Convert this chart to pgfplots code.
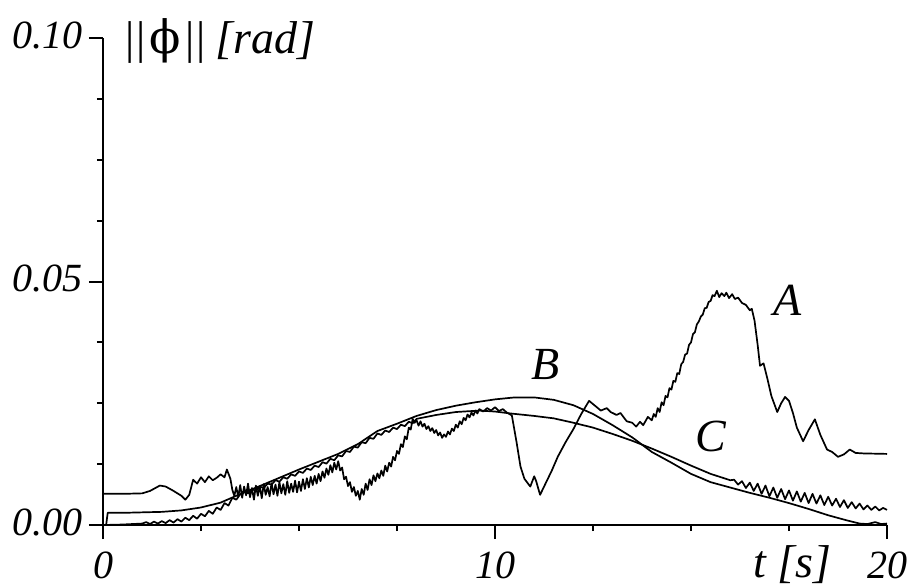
\documentclass[border=0pt]{standalone}
\usepackage{fontspec}
\setmainfont{Liberation Serif}
\newfontfamily\dvs{DejaVu Serif}
\usepackage{pgfplots}
\pgfplotsset{compat=1.18}
\begin{document}
\begin{tikzpicture}
\begin{axis}[
  scale only axis, width=392pt, height=243.5pt,
  xmin=0, xmax=20, ymin=0, ymax=0.1,
  axis x line=bottom, axis y line=left,
  axis line style={-, line width=1pt},
  xtick={0,10,20}, xticklabels={0,10,20},
  ytick={0,0.05,0.1}, yticklabels={0.00,0.05,0.10},
  minor x tick num=3, minor y tick num=3,
  xtick align=outside, ytick align=outside,
  major tick length=7pt, minor tick length=3pt,
  tick style={line width=1pt, black},
  ticklabel style={font=\fontsize{20}{22}\selectfont\itshape, inner sep=0pt},
  xticklabel style={anchor=base, yshift=-19.5pt},
  yticklabel style={anchor=east, xshift=-3pt, yshift=1.5pt},
  clip=false,
  cycle list={{black, mark=none}},
  every axis plot/.append style={black, mark=none, line width=0.85pt, line join=round},
]
\coordinate (O) at (rel axis cs:0,0);
\coordinate (T) at (rel axis cs:0,1);
% Curve A
\addplot coordinates {
(0,0.0064) (0.5,0.0064) (1.0,0.0065) (1.2,0.0070) (1.45,0.0081) (1.6,0.0079) (1.8,0.0070) (2.0,0.0060) (2.1,0.0052) (2.2,0.0062)
(2.3,0.0093) (2.4,0.0085) (2.5,0.0098) (2.6,0.0088) (2.7,0.0100) (2.8,0.0092) (2.9,0.0097) (3.0,0.0104) (3.1,0.0098) (3.16,0.0114)
(3.25,0.0095) (3.3,0.0072)
(3.35,0.0060) (3.40,0.0078) (3.45,0.0058) (3.50,0.0082) (3.55,0.0056) (3.60,0.0079) (3.65,0.0061) (3.70,0.0085) (3.75,0.0057) (3.80,0.0076)
(3.85,0.0052) (3.90,0.0081) (3.95,0.0060) (4.00,0.0080) (4.05,0.0055) (4.10,0.0084) (4.15,0.0062) (4.20,0.0078) (4.25,0.0059) (4.30,0.0086)
(4.35,0.0063) (4.40,0.0083) (4.45,0.0060) (4.50,0.0088) (4.55,0.0065) (4.60,0.0084) (4.65,0.0062) (4.70,0.0090) (4.75,0.0066) (4.80,0.0085)
(4.85,0.0068) (4.90,0.0091) (4.95,0.0067) (5.00,0.0089) (5.05,0.0070) (5.10,0.0094) (5.15,0.0074) (5.20,0.0096) (5.25,0.0077) (5.30,0.0099)
(5.35,0.0082) (5.40,0.0101) (5.45,0.0085) (5.50,0.0105) (5.55,0.0090) (5.60,0.0110) (5.65,0.0097) (5.70,0.0116) (5.75,0.0103) (5.80,0.0123)
(5.85,0.0108) (5.90,0.0128) (5.95,0.0114) (6.00,0.0131) (6.05,0.0112) (6.10,0.0118) (6.15,0.0094) (6.20,0.0099) (6.25,0.0080) (6.30,0.0088)
(6.35,0.0068) (6.40,0.0078) (6.45,0.0060) (6.50,0.0070) (6.55,0.0052) (6.60,0.0074) (6.65,0.0062) (6.70,0.0085) (6.75,0.0072) (6.80,0.0094)
(6.85,0.0082) (6.90,0.0102) (6.95,0.0090) (7.00,0.0106) (7.05,0.0096) (7.10,0.0112) (7.15,0.0101) (7.20,0.0122) (7.25,0.0110) (7.30,0.0128)
(7.35,0.0120) (7.40,0.0140) (7.45,0.0133) (7.50,0.0152) (7.55,0.0146) (7.60,0.0166) (7.65,0.0160) (7.70,0.0182) (7.75,0.0176) (7.80,0.0200)
(7.85,0.0196) (7.90,0.0218) (7.95,0.0210) (8.00,0.0215) (8.05,0.0204) (8.10,0.0213) (8.15,0.0202) (8.20,0.0208) (8.25,0.0197) (8.30,0.0203)
(8.35,0.0193) (8.40,0.0199) (8.45,0.0189) (8.50,0.0195) (8.55,0.0184) (8.60,0.0190) (8.65,0.0179) (8.70,0.0186) (8.75,0.0181) (8.80,0.0192)
(8.85,0.0186) (8.90,0.0198) (8.95,0.0193) (9.00,0.0206) (9.05,0.0200) (9.10,0.0213) (9.15,0.0207) (9.20,0.0220) (9.25,0.0215) (9.30,0.0227)
(9.35,0.0221) (9.40,0.0231) (9.45,0.0225) (9.50,0.0235) (9.55,0.0229) (9.60,0.0238) (9.70,0.0233) (9.80,0.0240) (9.90,0.0235) (10.0,0.0242)
(10.1,0.0234) (10.2,0.0238) (10.3,0.0231) (10.43,0.0225) (10.55,0.0170) (10.65,0.0120) (10.75,0.0095)
(10.9,0.0079) (11.0,0.0100) (11.05,0.0090) (11.15,0.0062) (11.3,0.0087) (11.45,0.0112) (11.6,0.0140) (11.8,0.0170) (12.0,0.0197) (12.2,0.0228)
(12.4,0.0255) (12.55,0.0245) (12.7,0.0235) (12.85,0.0240) (12.95,0.0232) (13.1,0.0226) (13.2,0.0230) (13.36,0.0213) (13.5,0.0210) (13.6,0.0202)
(13.7,0.0212) (13.78,0.0205) (13.9,0.0222)
(14.0,0.0215) (14.05,0.0228) (14.1,0.0222) (14.15,0.0240) (14.2,0.0232) (14.25,0.0252) (14.3,0.0246) (14.35,0.0265) (14.4,0.0262) (14.45,0.0281)
(14.5,0.0278) (14.55,0.0296) (14.6,0.0294) (14.65,0.0312) (14.7,0.0310) (14.75,0.0330) (14.8,0.0335) (14.85,0.0350) (14.9,0.0352) (14.95,0.0370)
(15.0,0.0375) (15.05,0.0392) (15.1,0.0396) (15.15,0.0412) (15.2,0.0418) (15.25,0.0428) (15.3,0.0432) (15.35,0.0445) (15.4,0.0446) (15.45,0.0458)
(15.5,0.0460) (15.55,0.0472) (15.6,0.0470) (15.66,0.0481) (15.72,0.0468) (15.78,0.0476) (15.85,0.0470) (15.9,0.0477) (15.97,0.0466) (16.05,0.0474)
(16.12,0.0464) (16.2,0.0467) (16.3,0.0456) (16.4,0.0452) (16.5,0.0441) (16.55,0.0444) (16.62,0.0420) (16.7,0.0370) (16.76,0.0327)
(16.85,0.0332) (16.95,0.0300) (17.05,0.0265) (17.2,0.0232) (17.3,0.0250) (17.4,0.0263) (17.5,0.0255) (17.6,0.0230) (17.7,0.0200) (17.86,0.0172)
(18.0,0.0195) (18.16,0.0217) (18.3,0.0185) (18.47,0.0155) (18.6,0.0150) (18.75,0.0140) (18.9,0.0145) (19.05,0.0155) (19.2,0.0148) (19.4,0.0147)
(20,0.0146)
};
% Curve S (smooth)
\addplot coordinates {
(0,0) (0.08,0.0000) (0.12,0.0025) (0.5,0.0025) (1.0,0.0026) (1.5,0.0027) (2.0,0.0030) (2.5,0.0036) (3.0,0.0046) (3.4,0.0060)
(4.0,0.0080) (4.5,0.0097) (5.0,0.0114) (5.5,0.0130) (6.0,0.0146) (6.5,0.0166) (7.0,0.0193) (7.5,0.0208) (8.0,0.0224) (8.5,0.0236)
(9.0,0.0245) (9.5,0.0252) (10.0,0.0258) (10.5,0.0262) (11.0,0.0262) (11.5,0.0257) (12.0,0.0246) (12.5,0.0228) (13.0,0.0205) (13.5,0.0180)
(14.0,0.0150) (14.5,0.0128) (15.0,0.0105) (15.5,0.0088) (16.0,0.0077) (16.5,0.0066) (17.0,0.0056) (17.5,0.0045) (18.0,0.0033) (18.5,0.0020)
(19.0,0.0009) (19.3,0.0003) (19.5,0.0002) (19.7,0.0006) (19.85,0.0002) (20,0.0003)
};
% Curve Z (zigzag)
\addplot coordinates {
(0,0.0000) (0.5,0.0001) (1.0,0.0003) (1.1,0.0006) (1.2,0.0002) (1.3,0.0007) (1.4,0.0003) (1.5,0.0008) (1.6,0.0004) (1.7,0.0010)
(1.8,0.0005) (1.9,0.0012) (2.0,0.0007) (2.1,0.0015) (2.2,0.0010) (2.3,0.0019) (2.4,0.0013) (2.5,0.0023) (2.6,0.0018) (2.7,0.0029)
(2.8,0.0023) (2.9,0.0036) (3.0,0.0031) (3.1,0.0045) (3.2,0.0040) (3.3,0.0056) (3.4,0.0052) (3.5,0.0063)
(3.6,0.0069) (3.7,0.0065) (3.8,0.0074) (3.9,0.0070) (4.0,0.0079) (4.1,0.0076) (4.2,0.0085) (4.3,0.0083) (4.4,0.0092) (4.5,0.0089)
(4.6,0.0098) (4.7,0.0095) (4.8,0.0104) (4.9,0.0101) (5.0,0.0110) (5.1,0.0107) (5.2,0.0116) (5.3,0.0113) (5.4,0.0122) (5.5,0.0119)
(5.6,0.0129) (5.7,0.0126) (5.8,0.0136) (5.9,0.0133) (6.0,0.0143) (6.1,0.0141) (6.2,0.0152) (6.3,0.0150) (6.4,0.0161) (6.5,0.0159)
(6.6,0.0170) (6.7,0.0168) (6.8,0.0179) (6.9,0.0177) (7.0,0.0188) (7.1,0.0185) (7.2,0.0194) (7.3,0.0191) (7.4,0.0200) (7.5,0.0197)
(7.6,0.0206) (7.7,0.0203) (7.8,0.0212) (7.9,0.0209) (8.0,0.0218)
(8.5,0.0226) (9.0,0.0232) (9.6,0.0235) (10.0,0.0233) (10.4,0.0229) (11.0,0.0224) (11.5,0.0219) (12.0,0.0210) (12.5,0.0200) (13.0,0.0187)
(13.5,0.0173) (14.0,0.0157) (14.5,0.0140) (15.0,0.0122) (15.5,0.0105) (16.0,0.0092)
(16.1,0.0093) (16.2,0.0083) (16.3,0.0090) (16.4,0.0076) (16.5,0.0087) (16.6,0.0070) (16.7,0.0085) (16.8,0.0064) (16.9,0.0081) (17.0,0.0059)
(17.1,0.0077) (17.2,0.0056) (17.3,0.0074) (17.4,0.0053) (17.5,0.0071) (17.6,0.0050) (17.7,0.0069) (17.8,0.0048) (17.9,0.0066) (18.0,0.0045)
(18.1,0.0064) (18.2,0.0044) (18.3,0.0061) (18.4,0.0041) (18.5,0.0058) (18.6,0.0040) (18.7,0.0054) (18.8,0.0037) (18.9,0.0051) (19.0,0.0035)
(19.1,0.0047) (19.2,0.0034) (19.3,0.0044) (19.4,0.0032) (19.5,0.0040) (19.6,0.0031) (19.7,0.0038) (19.8,0.0030) (19.9,0.0035) (20.0,0.0031)
};
\node[font=\fontsize{23}{24}\selectfont\itshape] at (axis cs:17.45,0.0462) {A};
\node[font=\fontsize{23}{24}\selectfont\itshape] at (axis cs:11.3,0.0329) {B};
\node[font=\fontsize{23}{24}\selectfont\itshape] at (axis cs:15.51,0.0181) {C};
\end{axis}
\node[anchor=base west, inner sep=0pt, font=\fontsize{23}{24}\selectfont] at ([xshift=11pt, yshift=-7.5pt]T) {|\kern1pt|\kern2pt{\dvs ϕ}\kern2pt|\kern1pt|\kern5pt\textit{[rad]}};
\node[anchor=base west, inner sep=0pt, font=\fontsize{23}{24}\selectfont\itshape] at ([xshift=325pt, yshift=-26pt]O) {t [s]};
\pgfresetboundingbox
\useasboundingbox ([shift={(-51.5pt,-30.5pt)}]O) rectangle ([shift={(405pt,262.5pt)}]O);
\end{tikzpicture}
\end{document}
